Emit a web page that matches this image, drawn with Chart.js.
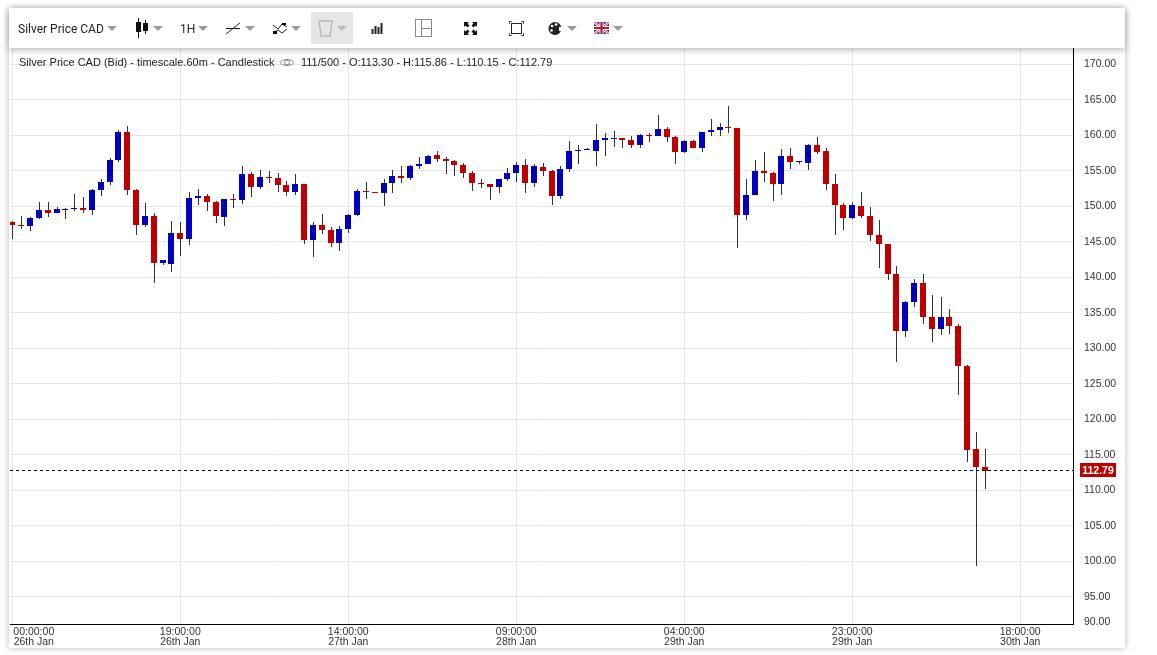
<!DOCTYPE html>
<html>
<head>
<meta charset="utf-8">
<style>
html,body{margin:0;padding:0;background:#fff;width:1157px;height:655px;overflow:hidden;font-family:"Liberation Sans",Arial,sans-serif}
#card{position:absolute;left:9px;top:8px;width:1116px;height:640px;background:#fff;box-shadow:0 0 7px rgba(0,0,0,.28)}
canvas{position:absolute;left:0;top:0}
#bar{position:absolute;left:9px;top:8px;width:1116px;height:40px;background:#fff;box-shadow:0 2px 7px rgba(0,0,0,.28)}
#bar svg,#bar span,#bar div{position:absolute}
.t{font-family:Roboto,"Liberation Sans",sans-serif;font-size:12px;color:#222;top:13px;line-height:16px;white-space:nowrap}
.c{width:0;height:0;border-left:5px solid transparent;border-right:5px solid transparent;border-top:5px solid #999;top:18px}
.hd{position:absolute;top:55px;font-size:11px;line-height:14px;color:#222;white-space:nowrap}
</style>
</head>
<body>
<div id="card"></div>
<canvas id="cv" width="1157" height="655"></canvas>
<span class="hd" style="left:19px">Silver Price CAD (Bid) - timescale.60m - Candlestick</span>
<svg style="position:absolute;left:279px;top:57px" width="16" height="11" viewBox="0 0 16 11"><path d="M1 5.5C4 1.5 12 1.5 15 5.5C12 9.5 4 9.5 1 5.5Z" fill="none" stroke="#888"/><circle cx="8" cy="5.5" r="2.4" fill="none" stroke="#888"/></svg>
<span class="hd" style="left:301px">111/500 - O:113.30 - H:115.86 - L:110.15 - C:112.79</span>
<div id="bar">
<span class="t" style="left:9px">Silver Price CAD</span><div class="c" style="left:98px"></div>
<svg style="left:126px;top:10px" width="14" height="20"><path d="M3.5 0V20M10.5 2V16" stroke="#111"/><rect x="1" y="4" width="5" height="10" fill="#111"/><rect x="8" y="5" width="5" height="8" fill="#111"/></svg><div class="c" style="left:144px"></div>
<span class="t" style="left:171px">1H</span><div class="c" style="left:189px"></div>
<svg style="left:216px;top:12px" width="16" height="16"><path d="M1 14L15 3" stroke="#222"/><path d="M1 8.5H15" stroke="#222"/></svg><div class="c" style="left:236px"></div>
<svg style="left:263px;top:12px" width="16" height="16"><path d="M1 5L6 9L10 4L15 7" stroke="#222" fill="none"/><path d="M1 13L6 10L10 13L15 9" stroke="#222" fill="none"/><rect x="1" y="11" width="4" height="3"/><rect x="10" y="3" width="4" height="2"/></svg><div class="c" style="left:282px"></div>
<div style="left:302px;top:4px;width:42px;height:32px;background:#e6e6e6"></div>
<svg style="left:309px;top:12px" width="15" height="17"><path d="M1 1H14L12 16H3Z" fill="none" stroke="#bbb" stroke-width="1.5"/></svg><div class="c" style="left:328px;border-top-color:#bbb"></div>
<svg style="left:362px;top:14px" width="14" height="12"><path d="M1.5 7V12M4.5 4V12M7.5 5V12M10.5 1V12" stroke="#222" stroke-width="2"/></svg>
<svg style="left:406px;top:11px" width="17" height="18"><rect x=".5" y=".5" width="16" height="17" fill="none" stroke="#888"/><path d="M6.5 0V18M6.5 9.5H17" stroke="#888"/></svg>
<svg style="left:455px;top:14px" width="13" height="13"><path d="M0 0H5L3.5 1.5 5.5 3.5 3.5 5.5 1.5 3.5 0 5ZM13 0V5L11.5 3.5 9.5 5.5 7.5 3.5 9.5 1.5 8 0ZM0 13V8L1.5 9.5 3.5 7.5 5.5 9.5 3.5 11.5 5 13ZM13 13H8L9.5 11.5 7.5 9.5 9.5 7.5 11.5 9.5 13 8Z" fill="#111"/></svg>
<svg style="left:500px;top:13px" width="15" height="15"><rect x="2.5" y="2.5" width="10" height="10" fill="none" stroke="#222"/><path d="M0 3V0H3M12 0H15V3M0 12V15H3M12 15H15V12" fill="none" stroke="#222" stroke-width="1.5"/></svg>
<svg style="left:539px;top:13px" width="15" height="15"><circle cx="7" cy="7.5" r="6.5" fill="#222"/><circle cx="4" cy="5" r="1.3" fill="#fff"/><circle cx="8" cy="3.5" r="1.3" fill="#fff"/><circle cx="3.5" cy="9.5" r="1.3" fill="#fff"/><rect x="11" y="6" width="4" height="4" fill="#fff"/></svg><div class="c" style="left:558px"></div>
<svg style="left:585px;top:14px" width="15" height="12" viewBox="0 0 15 12"><rect width="15" height="12" fill="#233a8b"/><path d="M0 0L15 12M15 0L0 12" stroke="#fff" stroke-width="2.4"/><path d="M0 0L15 12M15 0L0 12" stroke="#c8102e" stroke-width=".8"/><path d="M7.5 0V12M0 6H15" stroke="#fff" stroke-width="4"/><path d="M7.5 0V12M0 6H15" stroke="#c8102e" stroke-width="2.2"/></svg><div class="c" style="left:604px"></div>
</div>
<script src="https://cdn.jsdelivr.net/npm/chart.js@4"></script>
<script>
const opens=[147.81,147.39,147.25,148.38,149.50,149.08,149.50,149.65,149.79,149.50,152.32,153.45,156.55,160.49,152.32,147.39,148.66,142.04,141.90,146.26,145.42,151.19,151.48,150.63,148.52,151.05,150.91,154.57,152.74,154.15,154.01,153.03,152.04,153.17,145.28,147.39,146.69,144.86,146.83,148.80,152.18,152.04,151.90,153.31,154.30,154.01,155.70,155.99,157.25,156.69,156.41,155.85,154.72,153.31,153.17,152.75,153.87,154.72,155.85,153.31,155.56,155.00,151.48,155.28,157.82,157.96,157.82,159.37,159.51,159.65,159.37,158.66,160.07,159.93,160.92,159.79,157.68,159.23,158.24,160.49,160.77,161.20,161.06,148.80,151.62,155.00,154.72,153.17,157.11,156.27,156.13,158.66,157.82,153.17,150.21,148.38,150.07,148.66,145.98,144.72,140.49,132.46,136.55,139.22,134.43,132.74,134.43,133.17,127.54,115.85,113.30];
const highs=[147.95,148.66,148.52,150.63,150.63,149.93,149.79,151.76,151.34,152.46,153.87,156.83,160.77,161.34,152.46,150.49,149.08,142.46,147.95,147.81,152.04,152.46,151.76,150.77,151.05,151.76,155.70,154.86,155.14,155.00,154.72,153.59,154.57,153.17,147.81,148.94,147.11,147.25,148.94,152.46,153.45,152.04,153.87,155.14,155.70,155.85,156.97,157.25,157.82,156.97,156.55,156.13,155.00,153.87,153.17,153.87,155.42,156.27,156.69,155.99,156.13,155.14,155.70,159.23,158.66,158.24,161.62,160.35,160.63,159.65,159.93,160.21,160.35,162.89,161.20,159.93,159.37,159.37,160.49,162.32,161.76,164.15,161.06,153.87,156.55,157.68,154.86,158.10,158.24,156.41,158.80,159.79,158.24,154.58,150.49,150.63,152.04,149.93,148.10,144.72,141.62,136.69,139.79,140.49,137.53,137.25,135.56,133.45,127.68,118.24,115.86];
const lows=[145.42,146.83,146.55,148.24,148.52,149.08,148.24,149.36,149.08,148.80,151.48,153.03,156.26,151.62,145.98,147.11,139.22,141.76,140.77,143.03,144.57,150.21,149.36,147.67,147.25,149.79,150.35,151.34,152.46,153.31,152.04,151.48,151.62,144.72,142.88,146.13,144.30,143.73,146.27,148.66,151.06,151.90,150.07,151.90,153.31,153.73,155.28,155.99,156.27,154.58,154.30,154.01,152.18,152.61,150.92,151.90,153.59,153.45,151.90,152.75,154.30,150.21,151.06,154.86,155.99,157.96,155.70,157.11,158.38,158.24,158.24,158.24,159.08,159.93,159.08,155.99,157.54,158.24,157.68,159.93,159.93,160.35,144.16,148.10,151.62,153.45,150.77,151.62,155.28,155.99,155.14,157.39,152.32,145.99,146.69,148.24,148.38,145.14,141.34,139.65,128.10,131.62,135.84,133.45,130.91,131.90,132.04,123.45,114.02,99.37,110.15];
const closes=[147.39,147.25,148.38,149.50,149.08,149.65,149.65,149.79,149.50,152.32,153.45,156.55,160.49,152.32,147.39,148.66,142.04,142.46,146.26,145.42,151.19,151.48,150.63,148.66,151.05,150.91,154.57,152.74,154.15,154.01,153.03,152.04,153.17,145.28,147.39,146.69,144.86,146.83,148.80,152.18,152.04,151.90,153.31,154.30,154.01,155.70,155.99,157.11,156.69,156.41,155.85,154.72,153.31,153.17,152.75,153.87,154.72,155.85,153.31,155.70,155.00,151.48,155.28,157.82,157.96,158.10,159.37,159.65,159.65,159.37,158.66,160.07,159.93,160.92,159.79,157.68,159.23,158.24,160.49,160.77,161.20,161.06,148.80,151.62,155.00,154.72,153.17,157.11,156.27,156.41,158.66,157.68,153.17,150.21,148.38,150.21,148.66,145.98,144.72,140.49,132.46,136.55,139.22,134.43,132.74,134.43,133.17,127.54,115.71,113.31,112.79];
const lastPrice=112.79;
const priceTicks=[170,165,160,155,150,145,140,135,130,125,120,115,110,105,100,95,90];
const timeTickIndex=[0,19,38,57,76,95,114];
const timeTickHour=['00:00:00','19:00:00','14:00:00','09:00:00','04:00:00','23:00:00','18:00:00'];
const timeTickDate=['26th Jan','26th Jan','27th Jan','28th Jan','29th Jan','29th Jan','30th Jan'];

const X_MIN=-0.26,X_MAX=119.97,Y_MIN=91.197,Y_MAX=172.32;
const RED='#bf0000',BLUE='#0000c0',GRID='#e6e6e6',INK='#333';
const idx=opens.map((_,i)=>i);
const colors=idx.map(i=>closes[i]>=opens[i]?BLUE:RED);

const snap={id:'snap',afterDatasetsUpdate(c){
  c.getDatasetMeta(0).data.forEach(e=>{e.x=Math.round(e.x);const a=Math.round(Math.min(e.y,e.base));let b=Math.round(Math.max(e.y,e.base));if(b<=a)b=a+1;e.y=a;e.base=b;e.height=b-a;});
  c.getDatasetMeta(1).data.forEach(e=>{e.x=Math.round(e.x)+.5;const a=Math.round(Math.min(e.y,e.base)),b=Math.round(Math.max(e.y,e.base));e.y=a;e.base=b;e.height=b-a;});
  c.getDatasetMeta(2).data.forEach(e=>{e.y=Math.floor(e.y)+.5;});
}};
const priceTag={id:'priceTag',afterDraw(c){
  const y=Math.floor(c.scales.y.getPixelForValue(lastPrice))+.5,x=c.chartArea.right+7,g=c.ctx;
  g.save();g.fillStyle='#c00000';g.fillRect(x,y-7.5,36,14);
  g.fillStyle='#fff';g.font='bold 10.5px "Liberation Sans"';g.textAlign='center';g.textBaseline='middle';
  g.fillText(lastPrice.toFixed(2),x+18,y+.5);g.restore();
}};

new Chart(document.getElementById('cv'),{
  data:{datasets:[
    {type:'bar',order:1,grouped:false,barThickness:6,inflateAmount:0,borderWidth:0,backgroundColor:colors,
     data:idx.map(i=>({x:i,y:[opens[i],closes[i]]}))},
    {type:'bar',order:2,grouped:false,barThickness:1,inflateAmount:0,borderWidth:0,backgroundColor:'#2d3436',
     data:idx.map(i=>({x:i,y:[lows[i],highs[i]]}))},
    {type:'line',order:0,borderColor:'#000',borderWidth:1,borderDash:[3,3],pointRadius:0,fill:false,
     data:[{x:X_MIN,y:lastPrice},{x:X_MAX,y:lastPrice}]}
  ]},
  options:{
    responsive:false,devicePixelRatio:1,animation:false,events:[],
    layout:{padding:{left:10,right:32,top:48,bottom:7}},
    plugins:{legend:{display:false},tooltip:{enabled:false},title:{display:false}},
    scales:{
      x:{type:'linear',min:X_MIN,max:X_MAX,bounds:'data',offset:false,
        afterBuildTicks(s){
          s.ticks=timeTickIndex.map((v,i)=>({value:v,n:i,hide:i===0}));
          s.ticks.unshift({value:2.43,n:0,lab:true});
        },
        afterFit(s){s.height=24;},
        border:{color:'#000',width:1},
        grid:{offset:false,color:c=>c.tick&&c.tick.lab?'transparent':GRID,lineWidth:1,drawTicks:false},
        ticks:{autoSkip:false,maxRotation:0,minRotation:0,padding:3,color:INK,font:{family:'"Liberation Sans"',size:10.5,lineHeight:0.95},
          callback(v,i,t){const k=t[i];if(k.hide)return '';return [timeTickHour[k.n],timeTickDate[k.n]];}}
      },
      y:{type:'linear',position:'right',min:Y_MIN,max:Y_MAX,bounds:'data',
        afterBuildTicks(s){s.ticks=priceTicks.map((v,i)=>({value:v<Y_MIN?91.48:v,n:i,hide:v<Y_MIN}));},
        afterFit(s){s.width=52;},
        border:{color:'#000',width:1},
        grid:{color:c=>c.tick&&c.tick.hide?'transparent':GRID,lineWidth:1,drawTicks:false},
        ticks:{autoSkip:false,padding:11,labelOffset:0,color:INK,crossAlign:'near',font:{family:'"Liberation Sans"',size:10.5},
          callback(v,i,t){return priceTicks[t[i].n].toFixed(2);}}
      }
    }
  },
  plugins:[snap,priceTag]
});
</script>
</body>
</html>
